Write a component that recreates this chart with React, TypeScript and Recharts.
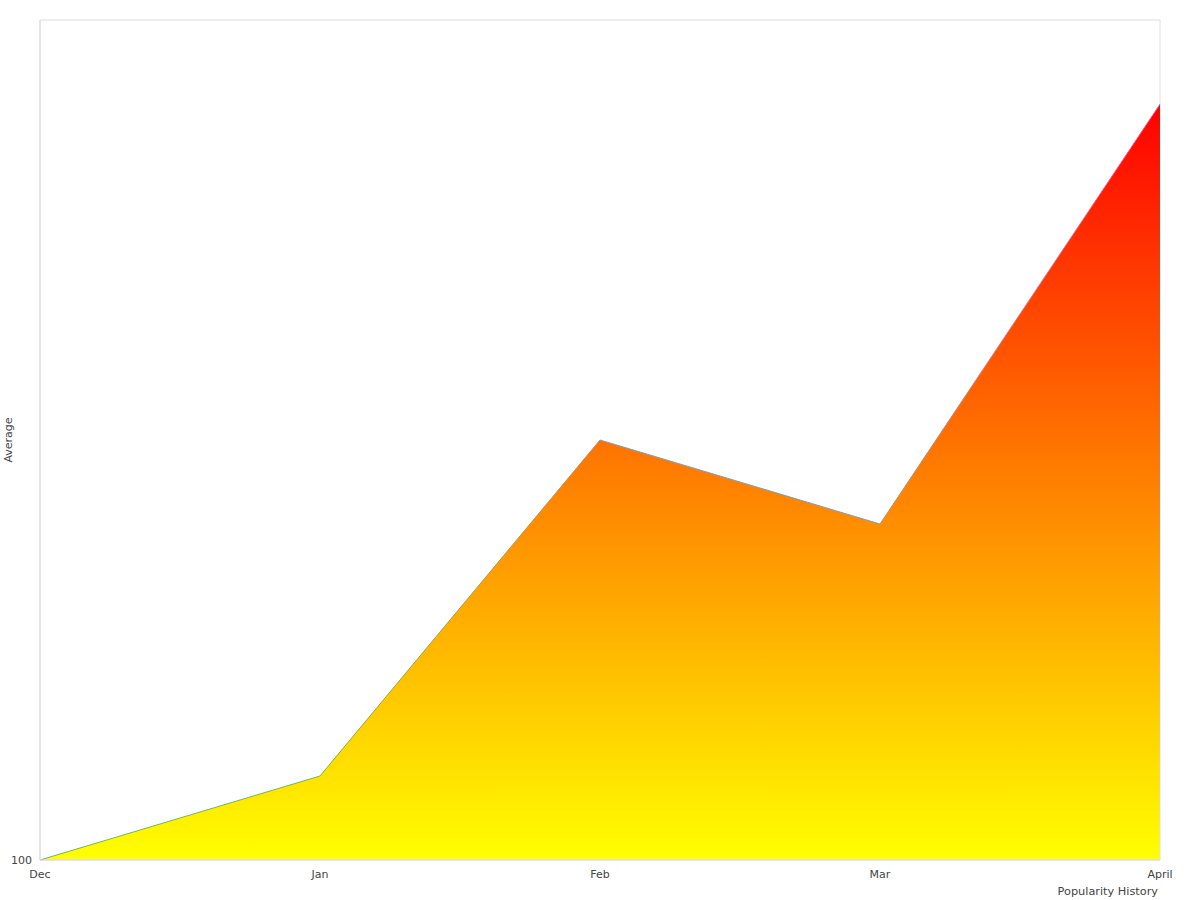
import React from 'react'
import { AreaChart, Area, XAxis, YAxis, ReferenceArea } from 'recharts'

const months = ['Dec', 'Jan', 'Feb', 'Mar', 'April']
const average = [100, 110, 150, 140, 190]
const yTicks = [100]

const data = months.map((m, i) => ({ month: m, average: average[i] }))

const tickStyle = { fill: '#444', fontSize: 11, fontFamily: 'DejaVu Sans' }

export default function App() {
  return (
    <div style={{ position: 'absolute', left: 0, top: 0, background: '#fff' }}>
      <AreaChart width={1200} height={900} data={data} margin={{ top: 20, right: 40, left: 0, bottom: 0 }}>
        <defs>
          <linearGradient id="heat" x1="0" y1="0" x2="0" y2="1">
            <stop offset="0%" stopColor="#ff0000" />
            <stop offset="50%" stopColor="#ff8000" />
            <stop offset="100%" stopColor="#ffff00" />
          </linearGradient>
        </defs>
        <XAxis
          dataKey="month"
          height={40}
          stroke="#ddd"
          tickLine={false}
          tick={tickStyle}
          tickMargin={4}
          interval={0}
          label={{ value: 'Popularity History', position: 'insideBottomRight', offset: 5, dx: 3, fill: '#444', fontSize: 11.3, fontFamily: 'DejaVu Sans' }}
        />
        <YAxis
          width={40}
          domain={[100, 200]}
          ticks={yTicks}
          stroke="#ddd"
          tickLine={false}
          tick={tickStyle}
          label={{ value: 'Average', angle: -90, position: 'insideLeft', dx: 3, textAnchor: 'middle', fill: '#444', fontSize: 11, fontFamily: 'DejaVu Sans' }}
        />
        <ReferenceArea x1="Dec" x2="April" y1={100} y2={200} fill="none" stroke="#ddd" ifOverflow="visible" />
        <Area
          type="linear"
          dataKey="average"
          stroke="#5aa5f0"
          strokeWidth={1}
          fill="url(#heat)"
          fillOpacity={1}
          isAnimationActive={false}
        />
      </AreaChart>
    </div>
  )
}
